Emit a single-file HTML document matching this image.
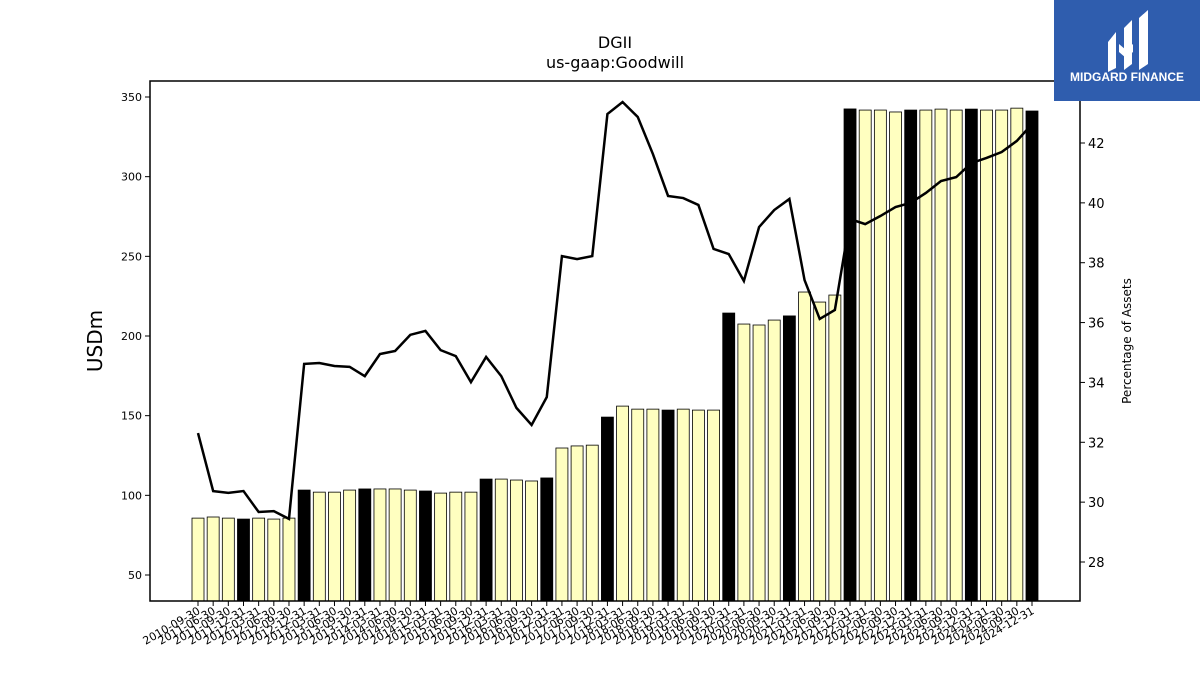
<!DOCTYPE html>
<html><head><meta charset="utf-8"><style>
html,body{margin:0;padding:0;background:#fff;}
svg{display:block;font-family:"DejaVu Sans","Liberation Sans",sans-serif;}
</style></head><body>
<svg id="chart" width="1200" height="675" viewBox="0 0 1200 675" xmlns="http://www.w3.org/2000/svg">
<rect x="0" y="0" width="1200" height="675" fill="#fff"/>
<text x="615" y="48" text-anchor="middle" font-size="16">DGII</text>
<text x="615" y="68" text-anchor="middle" font-size="16">us-gaap:Goodwill</text>
<g id="bars"></g>
<g id="line"></g>
<rect x="150" y="81" width="930" height="520" fill="none" stroke="#000" stroke-width="1.5"/>
<g id="yleft"></g>
<g id="yright"></g>
<g id="xaxis"></g>
<text transform="translate(102,341) rotate(-90)" text-anchor="middle" font-size="20">USDm</text>
<text transform="translate(1131,341) rotate(-90)" text-anchor="middle" font-size="12">Percentage of Assets</text>
<g>
<rect x="1054" y="0" width="146" height="101" fill="#2f5dae"/>
<path d="M1108 42 L1116 32 L1116 68 L1108 72 Z" fill="#fff"/>
<path d="M1124 28 L1132 20 L1132 64 L1124 70 Z" fill="#fff"/>
<path d="M1139 18 L1148 10 L1148 64 L1139 70 Z" fill="#fff"/>
<path d="M1119 44 L1126 50 L1133 44 L1133 52 L1126 58 L1119 52 Z" fill="#fff"/>
<text x="1127" y="81" text-anchor="middle" font-size="12" font-weight="bold" fill="#fff" font-family="Liberation Sans, sans-serif">MIDGARD FINANCE</text>
</g>
</svg>
<script>
const dates = ["2010-09-30","2011-06-30","2011-09-30","2011-12-31","2012-03-31","2012-06-30","2012-09-30","2012-12-31","2013-03-31","2013-06-30","2013-09-30","2013-12-31","2014-03-31","2014-06-30","2014-09-30","2014-12-31","2015-03-31","2015-06-30","2015-09-30","2015-12-31","2016-03-31","2016-06-30","2016-09-30","2016-12-31","2017-03-31","2017-06-30","2017-09-30","2017-12-31","2018-03-31","2018-06-30","2018-09-30","2018-12-31","2019-03-31","2019-06-30","2019-09-30","2019-12-31","2020-03-31","2020-06-30","2020-09-30","2020-12-31","2021-03-31","2021-06-30","2021-09-30","2021-12-31","2022-03-31","2022-06-30","2022-09-30","2022-12-31","2023-03-31","2023-06-30","2023-09-30","2023-12-31","2024-03-31","2024-06-30","2024-09-30","2024-12-31"];
const goodwill = [85.7,86.4,85.7,85.1,85.7,85.1,85.7,103.3,102,102,103.3,104,104,104,103.3,102.7,101.4,102,102,110.2,110.2,109.6,109,110.9,129.7,131,131.5,149.1,156,154.1,154.1,153.5,154.1,153.5,153.5,214.4,207.5,206.9,210,212.6,227.6,221.3,225.7,342.5,341.8,341.8,340.6,341.8,341.8,342.4,341.8,342.4,341.8,341.8,343,341.2];
const pctAssets = [32.31,30.37,30.31,30.37,29.67,29.7,29.44,34.62,34.65,34.55,34.52,34.21,34.95,35.05,35.59,35.72,35.08,34.88,34.01,34.85,34.21,33.15,32.58,33.51,38.22,38.12,38.22,42.97,43.37,42.87,41.63,40.23,40.16,39.93,38.46,38.29,37.39,39.19,39.76,40.13,37.42,36.12,36.42,39.46,39.29,39.56,39.86,40.0,40.33,40.73,40.86,41.33,41.5,41.7,42.07,42.63];
const leftTicks = [50,100,150,200,250,300,350];
const rightTicks = [28,30,32,34,36,38,40,42];

const NS="http://www.w3.org/2000/svg";
function xPos(i){return 198 + i*(1032-198)/(dates.length-1);}
function yL(v){return 97 + (350-v)*(478/300);}
function yR(v){return 143 + (42-v)*(419/14);}
function mk(tag,attrs,parent){const e=document.createElementNS(NS,tag);for(const k in attrs)e.setAttribute(k,attrs[k]);parent.appendChild(e);return e;}
const bars=document.getElementById('bars'),line=document.getElementById('line');
const yl=document.getElementById('yleft'),yr=document.getElementById('yright'),xa=document.getElementById('xaxis');
goodwill.forEach((v,i)=>{
  const annual=dates[i].endsWith('12-31');
  const r=mk('rect',{x:xPos(i)-6,y:yL(v),width:12,height:601-yL(v),fill:annual?'#000':'#ffffc0',stroke:'#000','stroke-width':0.8},bars);
  
  
});
const pl=mk('polyline',{points:pctAssets.map((v,i)=>xPos(i)+','+yR(v)).join(' '),fill:'none',stroke:'#000','stroke-width':2.5},line);


leftTicks.forEach(t=>{
  mk('line',{x1:145,x2:150,y1:yL(t),y2:yL(t),stroke:'#000'},yl);
  const tx=mk('text',{x:142,y:yL(t)+4,'text-anchor':'end','font-size':11},yl);tx.textContent=t;
  
  
});
rightTicks.forEach(t=>{
  mk('line',{x1:1080,x2:1085,y1:yR(t),y2:yR(t),stroke:'#000'},yr);
  const tx=mk('text',{x:1088,y:yR(t)+5,'font-size':13},yr);tx.textContent=t;
  
  
});
dates.forEach((d,i)=>{
  const x=xPos(i);
  mk('line',{x1:x,x2:x,y1:601,y2:606,stroke:'#000'},xa);
  const tx=mk('text',{transform:`translate(${x+3},${613}) rotate(-30)`,'text-anchor':'end','font-size':11},xa);tx.textContent=d;
  
  
});
</script>
</body></html>
